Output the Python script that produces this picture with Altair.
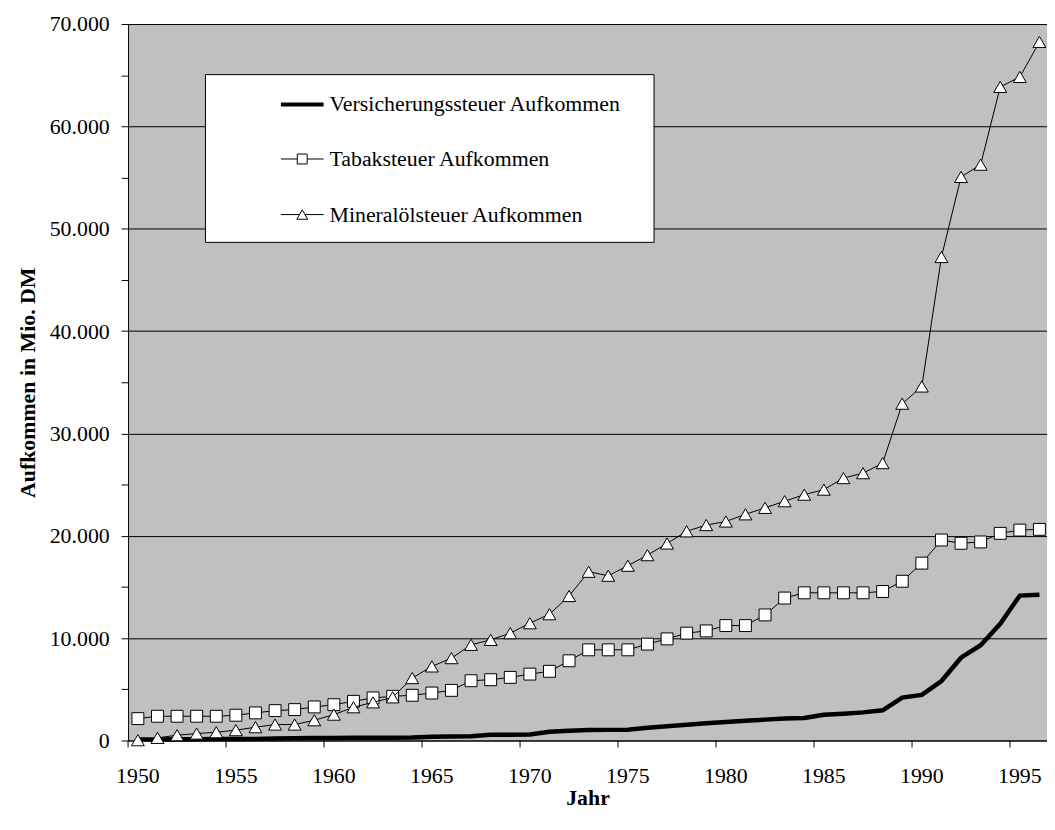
import altair as alt
import pandas as pd

years = list(range(1950, 1997))

versicherung = [100, 110, 120, 130, 140, 150, 160, 200, 230, 240,
                250, 260, 270, 280, 300, 370, 390, 410, 560, 570,
                580, 850, 950, 1030, 1040, 1050, 1250, 1400, 1540, 1680,
                1810, 1930, 2040, 2150, 2200, 2520, 2620, 2750, 2950, 4200,
                4460, 5810, 8090, 9310, 11410, 14160, 14250]

tabak = [2140, 2370, 2370, 2370, 2370, 2470, 2700, 2920, 3020, 3280,
         3500, 3830, 4160, 4320, 4420, 4640, 4900, 5840, 5940, 6170,
         6490, 6760, 7790, 8860, 8860, 8860, 9420, 9930, 10490, 10710,
         11230, 11230, 12270, 13920, 14430, 14430, 14430, 14430, 14560, 15560,
         17330, 19590, 19270, 19400, 20240, 20560, 20630]

mineraloel = [30, 260, 520, 680, 810, 1010, 1300, 1560, 1560, 1980,
              2530, 3250, 3730, 4220, 6100, 7240, 8050, 9350, 9830, 10490,
              11460, 12340, 14120, 16490, 16100, 17080, 18110, 19250, 20440, 21050,
              21400, 22100, 22730, 23380, 24020, 24510, 25640, 26120, 27100, 32910,
              34590, 47240, 55060, 56260, 63860, 64830, 68250]

series_names = ["Versicherungssteuer Aufkommen", "Tabaksteuer Aufkommen",
                "Mineralölsteuer Aufkommen"]

# x axis: ticks sit between categories, labels centred on every 5th year
x_tick_bounds = [1949.5 + 5 * i for i in range(10)]
x_label_years = [1950 + 5 * i for i in range(10)]
x_label_text = [str(y) for y in x_label_years]
y_tick_values = list(range(0, 70001, 5000))

df = pd.DataFrame({"Jahr": years, "V": versicherung, "T": tabak, "M": mineraloel})
ticks_df = pd.DataFrame({"Jahr": x_tick_bounds})
labels_df = pd.DataFrame({"Jahr": x_label_years, "lab": x_label_text})
one = pd.DataFrame({"k": [0]})

FONT = "Liberation Serif"
FS = 22
W, H = 926, 722
CAT = 19.75
x_domain = [1949.5, 1949.5 + W / CAT]

x_axis = alt.Axis(
    labels=False,
    ticks=False,
    grid=False,
    domainColor="black",
    title="Jahr",
    titleFont=FONT,
    titleFontSize=FS,
    titleFontWeight="bold",
    titleColor="black",
    titleBaseline="alphabetic",
    titleY=64,
)

y_axis = alt.Axis(
    values=y_tick_values,
    labelExpr="datum.value % 10000 == 0 ? replace(format(datum.value, ','), ',', '.') : ''",
    labelOverlap=False,
    ticks=True,
    grid=True,
    gridColor={"condition": {"test": "datum.value % 10000 == 0", "value": "black"},
               "value": "transparent"},
    gridOpacity=1,
    gridWidth=1,
    domainColor="black",
    tickColor="black",
    tickSize=7,
    labelFont=FONT,
    labelFontSize=FS,
    labelColor="black",
    labelPadding=12,
    title="Aufkommen in Mio. DM",
    titleFont=FONT,
    titleFontSize=FS,
    titleFontWeight="bold",
    titleColor="black",
    titleAngle=270,
    titleBaseline="alphabetic",
    titleX=-94,
    titleY=H / 2,
)

xs = alt.Scale(domain=x_domain, nice=False, zero=False)
ys = alt.Scale(domain=[0, 70000], nice=False, zero=True)


def X():
    return alt.X("Jahr:Q", scale=xs, axis=x_axis)


def Y(col):
    return alt.Y(f"{col}:Q", scale=ys, axis=y_axis)


base = alt.Chart(df)

line_v = base.mark_line(color="black", strokeWidth=4.5).encode(x=X(), y=Y("V"))
line_t = base.mark_line(color="black", strokeWidth=1).encode(x=X(), y=Y("T"))
pts_t = base.mark_point(shape="square", size=144, filled=True, fill="white",
                        stroke="black", strokeWidth=1, opacity=1).encode(x=X(), y=Y("T"))
line_m = base.mark_line(color="black", strokeWidth=1).encode(x=X(), y=Y("M"))
pts_m = base.mark_point(shape="triangle-up", size=169, filled=True, fill="white",
                        stroke="black", strokeWidth=1, opacity=1).encode(x=X(), y=Y("M"))

# x-axis ticks and labels
x_ticks = alt.Chart(ticks_df).mark_rule(color="black", strokeWidth=1).encode(
    x=X(), y=alt.value(H), y2=alt.value(H + 7))
x_labels = alt.Chart(labels_df).mark_text(
    align="center", baseline="alphabetic", font=FONT, fontSize=FS, color="black"
).encode(x=X(), y=alt.value(H + 43), text="lab:N")

# legend box
lg = alt.Chart(one)
leg_box = lg.mark_rect(fill="white", stroke="black", strokeWidth=1).encode(
    x=alt.value(78), x2=alt.value(530), y=alt.value(51), y2=alt.value(220))
row_y = [81, 136, 192]
lx1, lx2, lmid, ltext = 154, 197, 175.5, 203
leg_l1 = lg.mark_rule(color="black", strokeWidth=4).encode(
    x=alt.value(lx1), x2=alt.value(lx2), y=alt.value(row_y[0]))
leg_l2 = lg.mark_rule(color="black", strokeWidth=1).encode(
    x=alt.value(lx1), x2=alt.value(lx2), y=alt.value(row_y[1]))
leg_l3 = lg.mark_rule(color="black", strokeWidth=1).encode(
    x=alt.value(lx1), x2=alt.value(lx2), y=alt.value(row_y[2]))
leg_p2 = lg.mark_point(shape="square", size=100, filled=True, fill="white",
                       stroke="black", strokeWidth=1, opacity=1).encode(
    x=alt.value(lmid), y=alt.value(row_y[1]))
leg_p3 = lg.mark_point(shape="triangle-up", size=120, filled=True, fill="white",
                       stroke="black", strokeWidth=1, opacity=1).encode(
    x=alt.value(lmid), y=alt.value(row_y[2]))
leg_texts = [
    lg.mark_text(align="left", baseline="middle", font=FONT, fontSize=FS,
                 color="black").encode(x=alt.value(ltext), y=alt.value(row_y[i]),
                                       text=alt.value(series_names[i]))
    for i in range(3)
]

chart = alt.layer(
    line_v, line_t, pts_t, line_m, pts_m, x_ticks, x_labels,
    leg_box, leg_l1, leg_l2, leg_l3, leg_p2, leg_p3, *leg_texts
).properties(
    width=W, height=H,
    autosize=alt.AutoSizeParams(type="none"),
    padding={"left": 121, "top": 13, "right": 0, "bottom": 85},
    background="white",
).configure_view(fill="#C0C0C0", stroke="transparent")

chart.save("out.html", embed_options={"renderer": "svg", "actions": False})
